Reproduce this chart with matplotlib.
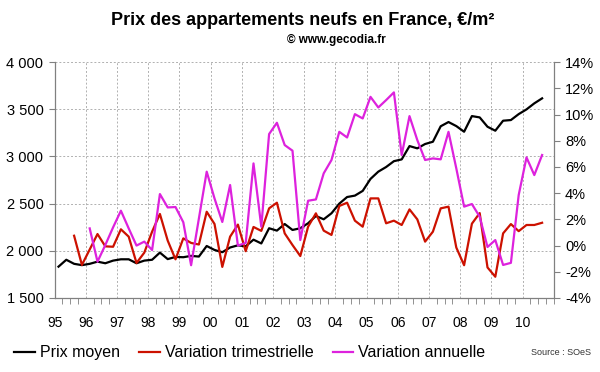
import numpy as np
import matplotlib
matplotlib.use("Agg")
import matplotlib.pyplot as plt
from matplotlib.ticker import FixedLocator, FuncFormatter

plt.rcParams["font.family"] = ["Liberation Sans", "DejaVu Sans"]

# quarterly data, 1995 Q1 -> 2010 Q3
prix_moyen = [
    1832, 1905, 1862, 1848, 1862, 1885, 1868, 1896, 1910, 1910, 1868, 1896,
    1905, 1981, 1912, 1935, 1932, 1946, 1939, 2051, 2009, 1985, 2035, 2058,
    2048, 2118, 2078, 2239, 2214, 2284, 2221, 2239, 2292, 2369, 2334, 2398,
    2500, 2570, 2585, 2635, 2762, 2839, 2888, 2950, 2969, 3110, 3086, 3132,
    3156, 3320, 3365, 3322, 3262, 3428, 3414, 3315, 3273, 3379, 3386, 3449,
    3499, 3563, 3616,
]
# variation trimestrielle (%), starts at 3rd quarter of the series
var_trim = [
    0.75, -1.48, -0.30, 0.88, -0.06, -0.09, 1.24, 0.68, -1.33, -0.54,
    1.06, 2.41, 0.38, -1.05, 0.55, 0.20, 0.08, 2.58, 1.65, -1.63,
    0.68, 1.60, -0.43, 1.42, 1.12, 2.84, 3.27, 0.93, 0.04, -0.80,
    1.44, 2.46, 1.14, 0.81, 3.02, 3.27, 1.90, 1.44, 3.60, 3.60,
    1.70, 1.90, 1.57, 2.76, 2.00, 0.30, 1.06, 2.84, 2.97, -0.15,
    -1.50, 1.67, 2.48, -1.67, -2.38, 0.93, 1.64, 1.10, 1.57, 1.57,
    1.74,
]
# variation annuelle (%), starts at 5th quarter
var_ann = [
    1.31, -1.23, 0.04, 1.39, 2.66, 1.31, 0.00, 0.30, -0.34, 3.93,
    2.91, 2.94, 1.78, -1.50, 2.07, 5.64, 3.60, 1.80, 4.62, 0.00,
    0.20, 6.27, 1.44, 8.51, 9.37, 7.67, 7.24, 0.42, 3.42, 3.52,
    5.51, 6.53, 8.68, 8.25, 10.03, 9.70, 11.35, 10.54, 11.10, 11.69,
    6.91, 9.88, 8.05, 6.53, 6.65, 6.58, 8.68, 5.89, 2.97, 3.17,
    2.20, -0.11, 0.42, -1.48, -1.32, 3.86, 6.73, 5.38, 6.91,
]
years = ["95", "96", "97", "98", "99", "00", "01", "02", "03", "04",
         "05", "06", "07", "08", "09", "10"]

n_quarters = 64
x_prix = np.arange(len(prix_moyen))
x_trim = np.arange(len(prix_moyen) - len(var_trim), len(prix_moyen))
x_ann = np.arange(len(prix_moyen) - len(var_ann), len(prix_moyen))

fig = plt.figure(figsize=(6, 3.72), dpi=100)
ax = fig.add_axes([0.091, 0.199, 0.832, 0.634])
ax2 = ax.twinx()

ax.plot(x_prix, prix_moyen, color="black", lw=1.6, zorder=3)
ax2.plot(x_trim, var_trim, color="#CC1100", lw=1.6)
ax2.plot(x_ann, var_ann, color="#DD22DD", lw=1.6)

ax.set_xlim(-0.5, n_quarters - 0.5)
ax.set_ylim(1500, 4000)
ax2.set_ylim(-4, 14)

grey = "#808080"
ax.set_yticks(np.arange(1500, 4001, 500))
ax.yaxis.set_major_formatter(FuncFormatter(lambda v, p: f"{int(v):,}".replace(",", " ")))
ax2.set_yticks(np.arange(-4, 15, 2))
ax2.yaxis.set_major_formatter(FuncFormatter(lambda v, p: f"{int(v)}%"))

year_pos = np.arange(len(years)) * 4 - 0.5
ax.xaxis.set_major_locator(FixedLocator(year_pos))
ax.set_xticklabels(years)
ax.xaxis.set_minor_locator(FixedLocator(np.arange(n_quarters + 1) - 0.5))

ax.grid(True, axis="both", which="major", color="#B0B0B0", ls=(0, (2, 2)), lw=0.7)
ax.set_axisbelow(True)

for a in (ax, ax2):
    for s in a.spines.values():
        s.set_color(grey)
        s.set_linewidth(0.9)
    a.spines["top"].set_visible(False)
ax.spines["right"].set_visible(False)
ax2.spines["left"].set_visible(False)
ax2.spines["bottom"].set_visible(False)

ax.tick_params(axis="y", colors=grey, labelcolor="black", labelsize=10.5, length=4, pad=4)
ax2.tick_params(axis="y", colors=grey, labelcolor="black", labelsize=10.5, length=4, pad=4)
ax.tick_params(axis="x", which="major", length=0, labelsize=10, pad=13)
ax.tick_params(axis="x", which="minor", length=4, color=grey)

fig.text(0.505, 0.945, "Prix des appartements neufs en France, €/m²",
         ha="center", va="center", fontsize=13, fontweight="bold")
fig.text(0.56, 0.892, "© www.gecodia.fr", ha="center", va="center",
         fontsize=8.5, fontweight="bold")

handles = [
    plt.Line2D([], [], color="black", lw=1.6),
    plt.Line2D([], [], color="#CC1100", lw=1.6),
    plt.Line2D([], [], color="#DD22DD", lw=1.6),
]
fig.legend(handles, ["Prix moyen", "Variation trimestrielle", "Variation annuelle"],
           loc="center left", bbox_to_anchor=(0.0, 0.052), ncol=3, frameon=False,
           fontsize=11.5, handlelength=1.3, handletextpad=0.3, columnspacing=1.2)
fig.text(0.985, 0.052, "Source : SOeS", ha="right", va="center", fontsize=6.5, color="#333333")

fig.savefig("out.png", dpi=100)
